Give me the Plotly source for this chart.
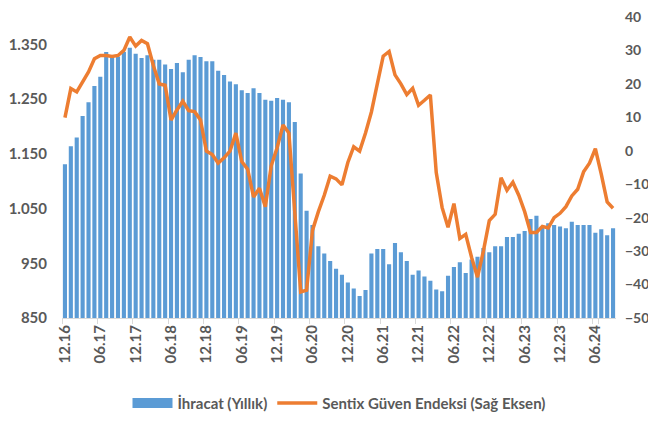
import plotly.graph_objects as go

# Months 12.16 .. 09.24
months = []
m, y = 12, 16
for _ in range(94):
    months.append(f"{m:02d}.{y:02d}")
    m += 1
    if m > 12:
        m = 1
        y += 1

ihracat = [1131, 1164, 1180, 1219, 1244, 1274, 1291, 1336, 1325, 1328,
           1336, 1344, 1333, 1325, 1330, 1322, 1322, 1313, 1305, 1316,
           1299, 1322, 1330, 1327, 1319, 1319, 1302, 1294, 1282, 1277,
           1266, 1261, 1270, 1261, 1249, 1247, 1252, 1249, 1244, 1208,
           1114, 1046, 1020, 981, 968, 954, 940, 929, 915, 904,
           890, 901, 968, 976, 976, 948, 987, 970, 954, 929,
           937, 926, 918, 902, 899, 927, 943, 952, 932, 957,
           962, 978, 970, 981, 981, 998, 998, 1004, 1009, 1031,
           1037, 1015, 1023, 1020, 1017, 1014, 1026, 1020, 1020, 1020,
           1006, 1012, 1001, 1014]

sentix = [9.9, 18.6, 17.6, 20.4, 23.6, 27.5, 28.5, 28.5, 28.2, 28.5,
          30.0, 34.0, 31.3, 33.0, 32.0, 25.5, 20.0, 19.6, 9.2, 12.2,
          14.8, 12.0, 11.7, 9.2, -0.1, -1.1, -3.7, -2.1, -0.1, 5.3,
          -3.2, -5.5, -13.8, -11.2, -16.7, -4.5, 0.9, 7.7, 5.3, -18.4,
          -42.2, -41.7, -23.8, -18.2, -13.3, -7.6, -8.4, -10.2, -3.5, 1.2,
          -0.1, 5.3, 11.6, 20.0, 28.3, 29.7, 22.7, 20.0, 16.8, 18.7,
          13.6, 15.1, 16.7, -6.5, -17.0, -22.9, -15.8, -26.2, -25.0, -31.9,
          -37.8, -30.0, -20.9, -19.0, -8.1, -11.8, -9.4, -13.3, -18.2, -24.4,
          -24.4, -22.6, -23.1, -20.0, -18.7, -16.7, -13.5, -11.5, -6.3, -3.7,
          0.6, -7.0, -15.3, -17.2]

left_ticks = [850, 950, 1050, 1150, 1250, 1350]
left_labels = ["850", "950", "1.050", "1.150", "1.250", "1.350"]
right_ticks = [-50, -40, -30, -20, -10, 0, 10, 20, 30, 40]
x_ticks = months[::6]

FONT = "Lato"
GRAY = "#595959"
BLUE = "#5B9BD5"
ORANGE = "#ED7D31"
tf = dict(family=FONT, size=15, color=GRAY, weight="bold")
tf_right = dict(family=FONT, size=14, color=GRAY, weight="bold")

fig = go.Figure()
fig.add_trace(go.Bar(x=months, y=ihracat, name="İhracat (Yıllık)", showlegend=False,
                     marker=dict(color=BLUE, line=dict(width=0)), yaxis="y"))
# legend proxy for the wide blue swatch
fig.add_trace(go.Scatter(x=[None], y=[None], name="İhracat (Yıllık)", mode="lines",
                         line=dict(color=BLUE, width=11), yaxis="y"))
fig.add_trace(go.Scatter(x=months, y=sentix, name="Sentix Güven Endeksi (Sağ Eksen)",
                         mode="lines", line=dict(color=ORANGE, width=3.5),
                         yaxis="y2"))

# page body has an 8px margin, so the figure is 16px smaller than the window
fig.update_layout(
    width=640, height=406,
    margin=dict(l=54, r=32, t=9, b=96, autoexpand=False),
    paper_bgcolor="white", plot_bgcolor="white",
    font=dict(family=FONT, color=GRAY, size=15, weight="bold"),
    bargap=0.3,
    showlegend=True,
    legend=dict(orientation="h", x=0.5, xanchor="center", y=-0.283, yanchor="middle",
                font=tf, itemwidth=40, tracegroupgap=0),
    xaxis=dict(type="category", tickmode="array", tickvals=x_ticks, ticktext=x_ticks,
               tickangle=-90, showline=True, linecolor="#D9D9D9", linewidth=1,
               ticks="outside", ticklen=5, tickcolor="#D9D9D9", tickson="boundaries",
               showgrid=False, zeroline=False, automargin=False,
               tickfont=tf, range=[-0.5, len(months) - 0.5]),
    yaxis=dict(range=[850, 1400], tickmode="array", tickvals=left_ticks, ticktext=left_labels,
               showgrid=False, zeroline=False, showline=False, ticks="",
               ticklabelstandoff=14, automargin=False, tickfont=tf,
               ticklabeloverflow="allow"),
    yaxis2=dict(range=[-50, 40], overlaying="y", side="right", tickmode="array",
                tickvals=right_ticks, showgrid=False, zeroline=False, showline=False,
                ticks="", ticklabelstandoff=8, automargin=False, tickfont=tf_right,
                ticklabeloverflow="allow"),
)

fig.write_html("out.html")
